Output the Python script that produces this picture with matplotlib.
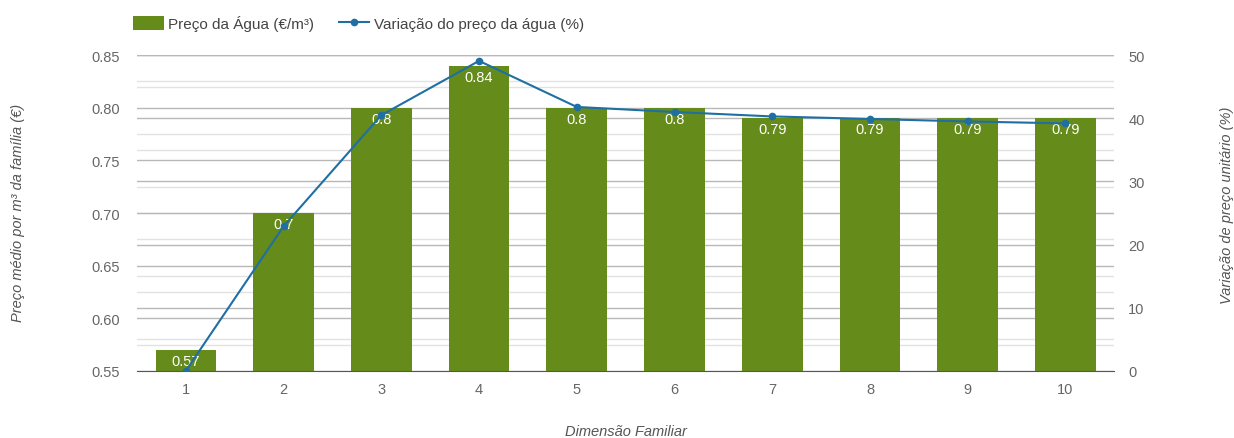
import numpy as np
import matplotlib
matplotlib.use("Agg")
import matplotlib.pyplot as plt
from matplotlib.patches import Patch
from matplotlib.lines import Line2D

# dados
dimensao = ["1", "2", "3", "4", "5", "6", "7", "8", "9", "10"]
preco_agua = [0.57, 0.70, 0.80, 0.84, 0.80, 0.80, 0.79, 0.79, 0.79, 0.79]
rotulos_preco = ["0.57", "0.7", "0.8", "0.84", "0.8", "0.8", "0.79", "0.79", "0.79", "0.79"]
variacao = [0.0, 22.9, 40.5, 49.1, 41.8, 41.0, 40.3, 39.9, 39.5, 39.2]

verde = "#658b1b"
azul = "#1f6fa3"
cinza_txt = "#666666"

plt.rcParams["font.family"] = ["Liberation Sans", "DejaVu Sans"]

fig = plt.figure(figsize=(12.34, 4.39), dpi=100)
ax = fig.add_axes([0.111, 0.153, 0.792, 0.719])
ax2 = ax.twinx()

x = np.arange(len(dimensao))

ax.set_xlim(-0.5, len(dimensao) - 0.5)
ax.set_ylim(0.55, 0.85)
ax2.set_ylim(0, 50)

# grelhas (todas por baixo das barras)
for v in np.arange(0.575, 0.85, 0.05):
    ax.axhline(v, color="#e2e2e2", lw=1, zorder=0)
for v in np.arange(0.55, 0.851, 0.05):
    ax.axhline(v, color="#b8b8b8", lw=1, zorder=0.5)
for v in [5, 15, 25, 35, 45]:
    ax.plot([0, 1], [v, v], transform=ax2.get_yaxis_transform(), color="#e2e2e2", lw=1, zorder=0)
for v in [10, 20, 30, 40, 50]:
    ax.plot([0, 1], [v, v], transform=ax2.get_yaxis_transform(), color="#b8b8b8", lw=1, zorder=0.5)

bars = ax.bar(x, preco_agua, width=0.62, bottom=0, color=verde, zorder=2)
for xi, yi, lab in zip(x, preco_agua, rotulos_preco):
    ax.annotate(lab, (xi, yi), xytext=(0, -8), textcoords="offset points",
                ha="center", va="center", color="white", fontsize=10.5, zorder=3)

ax2.plot(x, variacao, color=azul, lw=1.5, marker="o", markersize=4.5, zorder=5)

# eixos
ax.set_yticks(np.arange(0.55, 0.851, 0.05))
ax.set_yticklabels([f"{v:.2f}" for v in np.arange(0.55, 0.851, 0.05)])
ax2.set_yticks(range(0, 51, 10))
ax.set_xticks(x)
ax.set_xticklabels(dimensao)

for a in (ax, ax2):
    for s in a.spines.values():
        s.set_visible(False)
    a.tick_params(length=0, colors=cinza_txt, labelsize=10.5)
ax.spines["bottom"].set_visible(True)
ax.spines["bottom"].set_color("#555555")
ax.spines["bottom"].set_zorder(4)
ax.tick_params(axis="y", pad=12)
ax2.tick_params(axis="y", pad=10)
ax.tick_params(axis="x", pad=8)

fig.text(626 / 1234, 1 - 432 / 439, "Dimensão Familiar", style="italic", color="#555555",
         fontsize=10.5, ha="center", va="center")
fig.text(18 / 1234, 1 - 213 / 439, "Preço médio por m³ da família (€)", style="italic",
         color="#555555", fontsize=10.5, ha="center", va="center", rotation=90)
fig.text(1227 / 1234, 1 - 205 / 439, "Variação de preço unitário (%)", style="italic",
         color="#555555", fontsize=10.5, ha="center", va="center", rotation=90)

handles = [Patch(facecolor=verde, edgecolor="none"),
           Line2D([0], [0], color=azul, lw=1.5, marker="o", markersize=4.5)]
fig.legend(handles, ["Preço da Água (€/m³)", "Variação do preço da água (%)"],
           loc="center left", bbox_to_anchor=(130 / 1234, 1 - 24 / 439), ncol=2, frameon=False,
           fontsize=11, handlelength=2.0, handleheight=1.0, handletextpad=0.3,
           columnspacing=1.6, labelcolor="#444444", borderaxespad=0, borderpad=0.2)

fig.savefig("out.png", dpi=100)
